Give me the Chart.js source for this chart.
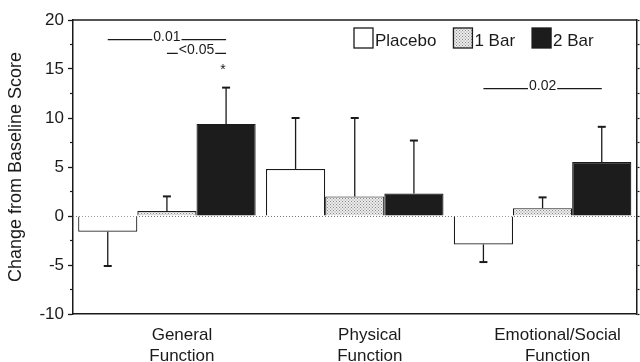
<!DOCTYPE html>
<html>
<head>
<meta charset="utf-8">
<script src="https://cdn.jsdelivr.net/npm/chart.js@4"></script>
<style>
html, body { margin: 0; padding: 0; background: #fff; }
#wrap { width: 640px; height: 362px; }
</style>
</head>
<body>
<div id="wrap"><canvas id="myChart"></canvas></div>
<script>
// data
const categories = [['General', 'Function'], ['Physical', 'Function'], ['Emotional/Social', 'Function']];
const seriesNames = ['Placebo', '1 Bar', '2 Bar'];
const placebo = [-1.6, 4.8, -2.9];
const oneBar = [0.5, 2.0, 0.8];
const twoBar = [9.4, 2.3, 5.5];
// error bar size (drawn away from zero)
const placeboSD = [3.5, 5.2, 1.8];
const oneBarSD = [1.5, 8.0, 1.1];
const twoBarSD = [3.7, 5.4, 3.6];
const yMin = -10, yMax = 20, yStep = 5;
// p value brackets: category, from series, to series, height
const brackets = [
    {cat: 0, from: 0, to: 2, y: 18, text: '0.01'},
    {cat: 0, from: 1, to: 2, y: 16.6, text: '<0.05'},
    {cat: 2, from: 0, to: 2, y: 13, text: '0.02'}
];
const stars = [{cat: 0, series: 2, y: 15.1, text: '*'}];

const FONT = '"Liberation Sans", Arial, sans-serif';
const INK = '#1a1a1a';

// stipple fill for "1 Bar"
function stipple() {
    const c = document.createElement('canvas');
    c.width = 3; c.height = 3;
    const g = c.getContext('2d');
    g.fillStyle = '#ececec';
    g.fillRect(0, 0, 3, 3);
    g.fillStyle = '#8a8a8a';
    g.fillRect(0, 0, 1, 1);
    g.fillRect(1.5, 1.5, 1, 1);
    return g.createPattern(c, 'repeat');
}

const errors = [placeboSD, oneBarSD, twoBarSD];

const errorBars = {
    id: 'errorBars',
    afterDatasetsDraw(chart) {
        const ctx = chart.ctx;
        const y = chart.scales.y;
        ctx.save();
        ctx.strokeStyle = INK;
        chart.data.datasets.forEach((ds, i) => {
            const meta = chart.getDatasetMeta(i);
            meta.data.forEach((bar, j) => {
                const v = ds.data[j];
                const end = y.getPixelForValue(v + Math.sign(v) * errors[i][j]);
                ctx.lineWidth = 1.3;
                ctx.beginPath();
                ctx.moveTo(bar.x, bar.y);
                ctx.lineTo(bar.x, end);
                ctx.stroke();
                ctx.lineWidth = 2;
                ctx.beginPath();
                ctx.moveTo(bar.x - 4, end);
                ctx.lineTo(bar.x + 4, end);
                ctx.stroke();
            });
        });
        ctx.restore();
    }
};

const frame = {
    id: 'frame',
    beforeDatasetsDraw(chart) {
        const ctx = chart.ctx;
        const a = chart.chartArea;
        const y = chart.scales.y;
        ctx.save();
        // dotted zero line
        ctx.strokeStyle = '#777';
        ctx.lineWidth = 1;
        ctx.setLineDash([1, 2]);
        const z = Math.round(y.getPixelForValue(0)) + 0.5;
        ctx.beginPath();
        ctx.moveTo(a.left, z);
        ctx.lineTo(a.right, z);
        ctx.stroke();
        ctx.setLineDash([]);
        // top edge
        ctx.strokeStyle = INK;
        ctx.lineWidth = 1.5;
        ctx.beginPath();
        ctx.moveTo(a.left, a.top);
        ctx.lineTo(a.right, a.top);
        ctx.stroke();
        // minor ticks on the left axis
        ctx.lineWidth = 1.2;
        for (let v = yMin + yStep / 2; v < yMax; v += yStep) {
            const p = y.getPixelForValue(v);
            ctx.beginPath();
            ctx.moveTo(a.left - 3, p);
            ctx.lineTo(a.left, p);
            ctx.stroke();
        }
        ctx.restore();
    },
    afterDraw(chart) {
        const ctx = chart.ctx;
        const y = chart.scales.y;
        ctx.save();
        ctx.strokeStyle = INK;
        ctx.fillStyle = INK;
        ctx.lineWidth = 1.3;
        // significance brackets
        brackets.forEach(b => {
            const x1 = chart.getDatasetMeta(b.from).data[b.cat].x;
            const x2 = chart.getDatasetMeta(b.to).data[b.cat].x;
            const py = y.getPixelForValue(b.y);
            ctx.font = '14px ' + FONT;
            const w = ctx.measureText(b.text).width;
            const mid = (x1 + x2) / 2;
            ctx.beginPath();
            ctx.moveTo(x1, py);
            ctx.lineTo(mid - w / 2 - 1, py);
            ctx.moveTo(mid + w / 2 + 1, py);
            ctx.lineTo(x2, py);
            ctx.stroke();
            ctx.textAlign = 'center';
            ctx.textBaseline = 'alphabetic';
            ctx.fillText(b.text, mid, py + 1);
        });
        stars.forEach(s => {
            const x = chart.getDatasetMeta(s.series).data[s.cat].x;
            ctx.font = '14px ' + FONT;
            ctx.textAlign = 'center';
            ctx.textBaseline = 'middle';
            ctx.fillText(s.text, x - 3, y.getPixelForValue(s.y) + 2);
        });
        // legend inside the plot
        ctx.font = '17px ' + FONT;
        ctx.textAlign = 'left';
        ctx.textBaseline = 'alphabetic';
        let lx = 354;
        const ly = 28;
        chart.data.datasets.forEach(ds => {
            ctx.fillStyle = ds.backgroundColor;
            ctx.fillRect(lx, ly, 19, 20);
            ctx.lineWidth = 1.3;
            ctx.strokeStyle = INK;
            ctx.strokeRect(lx, ly, 19, 20);
            ctx.fillStyle = INK;
            const tx = lx + 21;
            ctx.fillText(ds.label, tx, ly + 18);
            lx = tx + ctx.measureText(ds.label).width + 17;
        });
        ctx.restore();
    }
};

const fill = ['#ffffff', stipple(), '#1c1c1c'];
const values = [placebo, oneBar, twoBar];

new Chart(document.getElementById('myChart'), {
    type: 'bar',
    data: {
        labels: categories,
        datasets: seriesNames.map((name, i) => ({
            label: name,
            data: values[i],
            backgroundColor: fill[i],
            borderColor: INK,
            borderWidth: 1.2,
            borderSkipped: 'start',
            categoryPercentage: 0.945,
            barPercentage: 1.0
        }))
    },
    options: {
        responsive: true,
        maintainAspectRatio: false,
        animation: false,
        layout: {padding: {top: 20, left: 0, right: 0, bottom: 0}},
        plugins: {
            legend: {display: false},
            tooltip: {enabled: false}
        },
        scales: {
            x: {
                grid: {display: false},
                border: {color: INK, width: 1.5},
                ticks: {
                    color: INK,
                    font: {family: FONT, size: 17, lineHeight: 1.22},
                    padding: 3,
                    labelOffset: 15,
                    maxRotation: 0
                },
                afterFit(scale) { scale.height = 48; }
            },
            y: {
                min: yMin,
                max: yMax,
                ticks: {
                    stepSize: yStep,
                    color: INK,
                    font: {family: FONT, size: 17},
                    padding: 4
                },
                grid: {drawOnChartArea: false, tickLength: 5, tickColor: INK, tickWidth: 1.3},
                border: {color: INK, width: 1.5},
                title: {
                    display: true,
                    text: 'Change from Baseline Score',
                    color: INK,
                    font: {family: FONT, size: 18},
                    padding: {top: 5, bottom: 0}
                },
                afterFit(scale) { scale.width = 73; }
            },
            y2: {
                position: 'right',
                min: yMin,
                max: yMax,
                ticks: {display: false, stepSize: yStep / 2},
                grid: {drawOnChartArea: false, tickLength: 3, tickColor: INK, tickWidth: 1.2},
                border: {color: INK, width: 1.5},
                afterFit(scale) { scale.width = 3.5; }
            }
        }
    },
    plugins: [frame, errorBars]
});
</script>
</body>
</html>
